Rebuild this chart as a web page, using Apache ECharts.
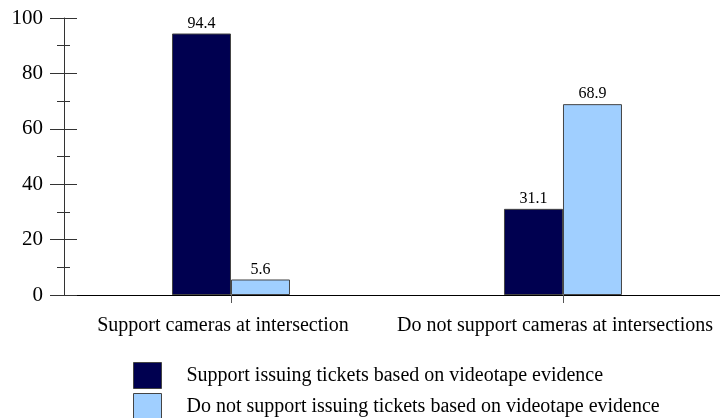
<!DOCTYPE html>
<html>
<head>
<meta charset="utf-8">
<script src="https://cdn.jsdelivr.net/npm/echarts@6/dist/echarts.min.js"></script>
<style>
  html, body { margin: 0; padding: 0; background: #fff; }
  #main { width: 720px; height: 418px; }
</style>
</head>
<body>
<div id="main"></div>
<script>
// data
var categories = ['Support cameras at intersection', 'Do not support cameras at intersections'];
var seriesNames = ['Support issuing tickets based on videotape evidence', 'Do not support issuing tickets based on videotape evidence'];
var supportTickets = [94.4, 31.1];
var notSupportTickets = [5.6, 68.9];

var font = 'Liberation Serif';
var myChart = echarts.init(document.getElementById('main'));

// bars sit on a value x axis so the plot can run past the right edge like the original
function pairs(vals) {
    return vals.map(function (v, i) { return [i, v]; });
}
var catIdx = categories.map(function (c, i) { return i; });

var barLabel = {
    show: true, position: 'top', distance: 2,
    fontFamily: font, fontSize: 16, color: '#000',
    formatter: function (p) { return p.value[1].toFixed(1); }
};

function legendFor(name, top) {
    return {
        orient: 'vertical', left: 133, top: top, padding: 0,
        icon: 'rect', itemWidth: 28, itemHeight: 26,
        itemStyle: { borderColor: '#444', borderWidth: 1 },
        textStyle: { fontFamily: font, fontSize: 20, color: '#000', padding: [0, 0, 0, 20] },
        data: [name]
    };
}

myChart.setOption({
    animation: false,
    textStyle: { fontFamily: font },
    grid: { left: 64, top: 18, right: 0, bottom: 123, containLabel: false, outerBoundsMode: 'none' },
    legend: [legendFor(seriesNames[0], 362), legendFor(seriesNames[1], 393)],
    xAxis: {
        type: 'value', min: -0.503, max: 1.473,
        splitLine: { show: false },
        axisLine: { show: true, onZero: false, lineStyle: { color: '#000', width: 1 } },
        axisTick: { show: true, customValues: catIdx, length: 8, lineStyle: { color: '#555' } },
        axisLabel: {
            customValues: catIdx, fontFamily: font, fontSize: 20, color: '#000', margin: 21,
            padding: [0, 16, 0, 0],
            formatter: function (v) { return categories[Math.round(v)]; }
        }
    },
    yAxis: [{
        type: 'value', min: 0, max: 100, interval: 20, position: 'left',
        splitLine: { show: false },
        axisLine: { show: true, onZero: false, lineStyle: { color: '#333' } },
        axisTick: { show: true, length: 14, lineStyle: { color: '#333' } },
        minorTick: { show: true, splitNumber: 2, length: 7, lineStyle: { color: '#333' } },
        axisLabel: { fontFamily: font, fontSize: 21, color: '#000', margin: 21 }
    }, {
        type: 'value', min: 0, max: 100, interval: 20, position: 'left', offset: 0,
        splitLine: { show: false },
        axisLine: { show: false, onZero: false },
        axisTick: { show: true, inside: true, length: 13, lineStyle: { color: '#333' } },
        minorTick: { show: true, splitNumber: 2, length: 6, lineStyle: { color: '#333' } },
        axisLabel: { show: false }
    }],
    series: [{
        name: seriesNames[0], type: 'bar', data: pairs(supportTickets),
        barWidth: 59, barGap: '0%',
        itemStyle: { color: '#000050', borderColor: '#444', borderWidth: 1 },
        label: barLabel
    }, {
        name: seriesNames[1], type: 'bar', data: pairs(notSupportTickets),
        barWidth: 59, barGap: '0%',
        itemStyle: { color: '#a0cfff', borderColor: '#444', borderWidth: 1 },
        label: barLabel
    }]
});
</script>
</body>
</html>
